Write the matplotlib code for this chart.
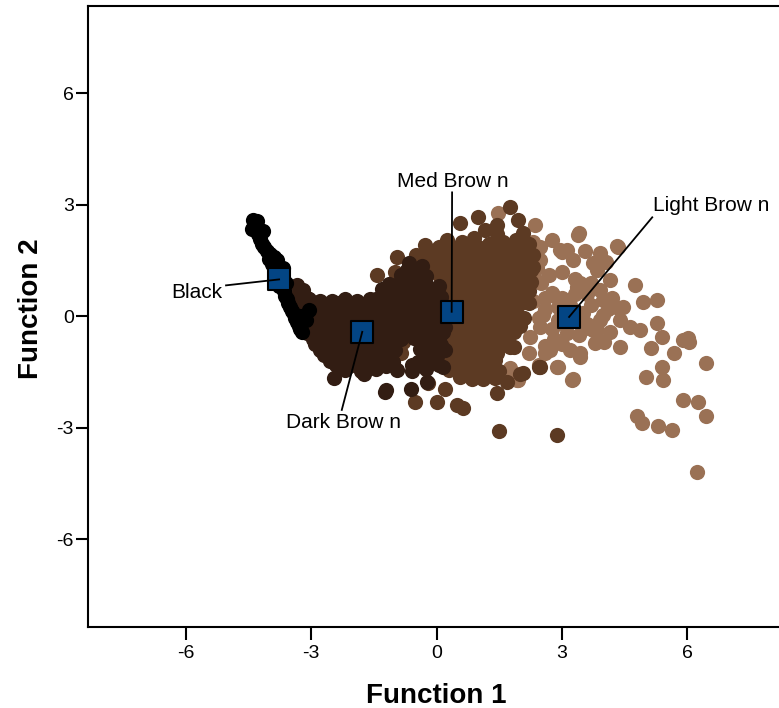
import matplotlib
matplotlib.use("Agg")
import matplotlib.pyplot as plt

plt.rcParams["font.family"] = ["Liberation Sans", "DejaVu Sans"]
plt.rcParams["axes.unicode_minus"] = False

# discriminant scores, one list pair per hair colour group
black_x = [-4.40, -4.30, -4.42, -4.33, -4.28, -4.22, -4.18, -4.12, -4.05, -3.98,
           -3.90, -3.82, -3.95, -3.88, -3.80, -3.74, -3.70, -3.78, -3.66, -3.62,
           -3.58, -3.55, -3.50, -3.46, -3.42, -3.38, -3.34, -3.30, -3.26, -3.22,
           -3.28, -3.05, -3.12, -3.60, -3.68, -4.02, -4.15]
black_y = [2.60, 2.55, 2.35, 2.42, 2.20, 2.08, 1.95, 1.85, 1.75, 1.68,
           1.58, 1.50, 1.40, 1.30, 1.18, 1.05, 0.92, 0.80, 0.68, 0.55,
           0.45, 0.35, 0.25, 0.15, 0.05, -0.05, -0.15, -0.25, -0.35, -0.42,
           0.00, 0.16, -0.10, 0.90, 1.30, 1.55, 2.30]

dark_x = [-0.65, -0.35, -0.70, -0.40,
          -0.85, -0.55, -0.25,
          -3.35, -1.15, -0.85, -0.55, -0.25, 0.05,
          -3.20, -1.30, -1.00, -0.70, -0.40, -0.10,
          -3.35, -3.10, -1.45, -1.15, -0.85, -0.55, -0.25, 0.10,
          -3.05, -2.80, -2.50, -2.20, -1.90, -1.60, -1.30, -1.00, -0.70, -0.40, -0.05,
          -3.25, -2.95, -2.65, -2.35, -2.05, -1.75, -1.45, -1.15, -0.85, -0.55, -0.25, 0.10,
          -3.10, -2.80, -2.50, -2.20, -1.90, -1.60, -1.30, -1.00, -0.70, -0.40, -0.10, 0.20,
          -3.15, -2.85, -2.55, -2.25, -1.95, -1.65, -1.35, -1.05, -0.75, -0.45, -0.15, 0.15,
          -3.00, -2.70, -2.40, -2.10, -1.80, -1.50, -1.20, -0.90, -0.60, -0.30, 0.00,
          -3.05, -2.75, -2.45, -2.15, -1.85, -1.55, -1.25, -0.95, -0.65, -0.35, -0.05, 0.20,
          -3.10, -2.80, -2.50, -2.20, -1.90, -1.60, -1.30, -1.00, -0.70, -0.40, -0.10, 0.15,
          -2.95, -2.65, -2.35, -2.05, -1.75, -1.45, -1.15, -0.85, -0.55, -0.25, 0.05,
          -2.90, -2.60, -2.30, -2.00, -1.70, -1.40, -1.10, -0.20, 0.10,
          -2.80, -2.50, -2.20, -1.90, -1.60, -1.30, -1.00, -0.40, -0.10, 0.20,
          -2.70, -2.40, -2.10, -1.80, -1.50, -1.20, -0.30, 0.00,
          -2.55, -2.25, -1.95, -1.65, -1.35, -1.05, -0.45, -0.15,
          -2.40, -2.10, -1.80, -1.50, -1.20, -0.60, -0.30, 0.05,
          -2.20, -1.80, -1.45, -0.95, -0.60, -0.25, 0.15,
          -2.45, -1.20, -0.62, -0.23, -1.75, -1.24]
dark_y = [1.42, 1.35, 1.25, 1.22,
          1.10, 1.12, 1.08,
          0.85, 0.88, 0.97, 0.85, 0.86, 0.82,
          0.70, 0.72, 0.68, 0.70, 0.72, 0.68,
          0.55, 0.50, 0.45, 0.55, 0.58, 0.55, 0.56, 0.52,
          0.45, 0.40, 0.42, 0.45, 0.40, 0.45, 0.42, 0.44, 0.40, 0.45, 0.42,
          0.30, 0.28, 0.32, 0.35, 0.30, 0.33, 0.32, 0.30, 0.30, 0.28, 0.32, 0.26,
          0.15, 0.17, 0.13, 0.15, 0.17, 0.13, 0.15, 0.17, 0.13, 0.15, 0.17, 0.13,
          0.00, 0.02, -0.02, 0.00, 0.03, -0.02, 0.00, 0.02, -0.02, 0.00, 0.02, -0.02,
          -0.15, -0.13, -0.17, -0.15, -0.13, -0.17, -0.15, -0.13, -0.17, -0.15, -0.13,
          -0.30, -0.28, -0.32, -0.30, -0.33, -0.28, -0.30, -0.32, -0.28, -0.30, -0.32, -0.30,
          -0.45, -0.47, -0.43, -0.45, -0.47, -0.43, -0.45, -0.47, -0.43, -0.45, -0.47, -0.43,
          -0.60, -0.62, -0.58, -0.60, -0.63, -0.58, -0.60, -0.62, -0.58, -0.60, -0.62,
          -0.75, -0.77, -0.73, -0.75, -0.77, -0.73, -0.75, -0.73, -0.77,
          -0.90, -0.92, -0.88, -0.90, -0.93, -0.88, -0.90, -0.88, -0.90, -0.92,
          -1.05, -1.07, -1.03, -1.05, -1.07, -1.03, -1.05, -1.07,
          -1.20, -1.18, -1.22, -1.20, -1.18, -1.22, -1.22, -1.20,
          -1.32, -1.34, -1.30, -1.32, -1.34, -1.32, -1.34, -1.30,
          -1.45, -1.48, -1.42, -1.45, -1.48, -1.42, -1.37,
          -1.65, -1.98, -1.95, -1.78, -1.55, -2.04]

med_x = [1.76,
         0.99, 1.45, 1.95,
         0.56,
         1.16, 1.45, 2.07,
         -0.28, 0.25, 0.60, 0.90, 1.25, 1.60, 1.90, 2.20,
         0.05, 0.35, 0.70, 1.00, 1.35, 1.65, 2.00,
         -0.95, -0.50, -0.15, 0.20, 0.50, 0.85, 1.15, 1.50, 1.80, 2.10, 2.30,
         -0.30, 0.05, 0.35, 0.65, 1.00, 1.30, 1.65, 1.95, 2.20,
         -0.10, 0.20, 0.50, 0.80, 1.10, 1.40, 1.70, 2.00, 2.30,
         -0.20, 0.20, 0.50, 0.80, 1.10, 1.40, 1.70, 2.00, 2.25,
         -1.43, -1.00, 0.05, 0.35, 0.65, 0.95, 1.25, 1.55, 1.85, 2.15,
         0.25, 0.55, 0.85, 1.15, 1.45, 1.75, 2.05,
         0.10, 0.40, 0.70, 1.00, 1.30, 1.60, 1.90, 2.25,
         0.20, 0.45, 0.75, 1.05, 1.35, 1.65, 1.95, 2.20,
         0.30, 0.60, 0.90, 1.20, 1.50, 1.80, 2.10,
         0.45, 0.75, 1.05, 1.35, 1.65, 1.95, 2.20,
         0.30, 0.60, 0.90, 1.20, 1.50, 1.80, 2.10,
         0.50, 0.80, 1.10, 1.40, 1.70, 1.95,
         0.35, 0.65, 0.95, 1.25, 1.55, 1.85, 2.10,
         0.45, 0.80, 1.10, 1.40, 1.70, 2.00,
         0.30, 0.60, 0.90, 1.20, 1.52, 1.85,
         0.45, 0.75, 1.05, 1.35, 1.70,
         0.40, 0.70, 1.00, 1.30, 1.60, 1.85,
         0.20, 0.50, 0.85, 1.15, 1.45, 1.75,
         -0.80, 0.30, 0.60, 0.90, 1.20, 1.44,
         0.25, 0.55, 0.85, 1.15, 1.40,
         -0.85, 0.40, 0.70, 1.00, 1.30,
         0.30, 0.60, 0.95, 1.20, 1.50,
         0.56, 0.85, 1.10, 1.40, 1.68, 2.07, 2.47, 2.00, 2.45,
         0.00, -0.52, 0.49, 0.63, 1.44, 1.49, 2.88, 0.20, -0.20]
med_y = [2.93,
         2.66, 2.45, 2.58,
         2.50,
         2.31, 2.20, 2.23,
         1.91, 2.05, 2.00, 2.10, 1.95, 2.00, 2.05, 1.95,
         1.85, 1.87, 1.83, 1.85, 1.87, 1.83, 1.85,
         1.59, 1.65, 1.70, 1.72, 1.68, 1.70, 1.72, 1.68, 1.70, 1.72, 1.64,
         1.55, 1.53, 1.57, 1.55, 1.53, 1.57, 1.55, 1.53, 1.57,
         1.40, 1.38, 1.42, 1.40, 1.38, 1.42, 1.40, 1.38, 1.32,
         1.25, 1.27, 1.23, 1.25, 1.27, 1.23, 1.25, 1.27, 1.23,
         1.10, 1.20, 1.10, 1.12, 1.08, 1.10, 1.12, 1.08, 1.10, 1.12,
         0.95, 0.97, 0.93, 0.95, 0.97, 0.93, 0.95,
         0.80, 0.82, 0.78, 0.80, 0.82, 0.78, 0.80, 0.91,
         0.65, 0.67, 0.63, 0.65, 0.67, 0.63, 0.65, 0.67,
         0.50, 0.52, 0.48, 0.50, 0.52, 0.48, 0.50,
         0.35, 0.37, 0.33, 0.35, 0.37, 0.33, 0.35,
         0.20, 0.22, 0.18, 0.20, 0.22, 0.18, 0.38,
         0.05, 0.07, 0.03, 0.05, 0.07, 0.03,
         -0.10, -0.08, -0.12, -0.10, -0.08, -0.12, -0.05,
         -0.25, -0.23, -0.27, -0.25, -0.23, -0.27,
         -0.40, -0.42, -0.38, -0.40, -0.38, -0.42,
         -0.55, -0.57, -0.53, -0.55, -0.57,
         -0.70, -0.72, -0.68, -0.70, -0.72, -0.83,
         -0.85, -0.87, -0.83, -0.85, -0.87, -0.83,
         -0.70, -1.00, -1.02, -0.98, -1.00, -1.00,
         -1.15, -1.17, -1.13, -1.15, -1.17,
         -1.00, -1.30, -1.32, -1.28, -1.30,
         -1.45, -1.47, -1.43, -1.45, -1.47,
         -1.64, -1.68, -1.70, -1.66, -1.77, -1.53, -1.37, -1.55, -1.37,
         -2.31, -2.31, -2.39, -2.47, -2.07, -3.09, -3.20, -1.95, -1.80]

light_x = [1.47, 2.47, 2.95, 2.79, 2.55, 3.41, 3.00, 4.34, 3.91, 4.75,
           5.27, 4.94, 4.47, 5.90, 2.76, 3.36, 2.47, 3.74, 3.39, 4.32,
           3.12, 3.27, 3.84, 4.15, 3.43, 3.91, 3.99, 3.99, 5.27, 6.02,
           4.15, 4.63, 4.87, 3.74, 4.80, 4.92, 5.30, 5.63, 5.90, 6.26,
           6.45, 5.01, 5.42, 5.39, 5.69, 6.05, 6.45, 5.13, 5.39, 6.24,
           3.24, 2.88, 2.59, 3.43, 4.39, 1.95, 3.79, 2.90, 3.27, 1.93,
           1.76, 1.28, 2.24, 2.71, 3.43, 2.47, 3.12, 3.84, 2.60, 2.90,
           3.20, 3.50, 3.00, 2.70, 3.00, 3.30, 3.60, 2.50, 2.80, 3.40,
           3.60, 4.20, 4.40, 2.40, 3.20, 2.60, 4.00, 2.35, 2.40,
           2.30, 2.60, 2.90, 3.30, 3.70, 4.10, 3.50, 3.10, 2.75, 2.45,
           3.90, 4.30, 2.20, 2.45, 3.00, 3.70, 4.05, 3.55, 2.75, 2.30]
light_y = [2.77, 1.85, 1.77, 0.56, 0.03, 2.23, 1.72, 1.85, 1.69, 0.83,
           0.43, 0.38, 0.24, -0.64, 0.62, 0.78, 1.50, 1.42, 2.18, 1.88,
           1.77, 1.50, 1.24, 0.97, 0.89, 0.70, 0.43, 0.03, -0.19, -0.59,
           -0.43, -0.30, -0.38, -0.38, -2.69, -2.87, -2.95, -3.06, -2.26, -2.31,
           -2.69, -1.64, -1.72, -1.37, -1.00, -0.70, -1.26, -0.86, -0.57, -4.19,
           -1.72, -1.37, -1.00, -1.10, -0.83, -1.72, -0.73, -1.37, -1.70, -1.72,
           -1.40, -1.10, -0.56, -0.91, -1.00, -0.30, -0.46, -0.38, 0.20, -0.10,
           0.30, 0.10, 0.50, 1.10, 1.20, 1.00, 0.60, 0.90, -0.60, -0.50,
           -0.20, 0.50, -0.10, 1.30, -0.90, -0.80, -0.70, 2.45, 0.95,
           0.40, 0.50, 0.25, 0.60, 0.30, 0.20, -0.35, -0.25, -0.35, -0.05,
           -0.10, 0.25, -1.00, -1.30, -0.75, 0.90, 1.45, 1.75, 2.05, 2.00]

# group centroids
groups = ["Black", "Dark Brow n", "Med Brow n", "Light Brow n"]
cent_x = [-3.77, -1.78, 0.36, 3.17]
cent_y = [0.99, -0.42, 0.12, -0.02]

# label placement: text anchor, leader line start, alignment
label_pos = [(-6.34, 0.64), (-2.24, -2.87), (0.38, 3.63), (5.18, 2.98)]
line_start = [(-5.04, 0.83), (-2.27, -2.52), (0.37, 3.33), (5.16, 2.66)]
label_ha = ["left", "center", "center", "left"]

fig = plt.figure(figsize=(7.79, 7.08), dpi=100)
ax = fig.add_axes([0.1126, 0.1148, 0.8958, 0.8771])

dot = 120
ax.scatter(light_x, light_y, s=dot, color="#9a7155", linewidths=0, zorder=2)
ax.scatter(med_x, med_y, s=dot, color="#5c3a23", linewidths=0, zorder=3)
ax.scatter(dark_x, dark_y, s=dot, color="#321d13", linewidths=0, zorder=4)
ax.scatter(black_x, black_y, s=dot, color="#000000", linewidths=0, zorder=5)

ax.scatter(cent_x, cent_y, s=240, marker="s", color="#034584",
           edgecolors="black", linewidths=1.5, zorder=6)

for name, cx, cy, (tx, ty), (lx, ly), ha in zip(groups, cent_x, cent_y,
                                                 label_pos, line_start, label_ha):
    ax.plot([lx, cx], [ly, cy], color="black", lw=1.3, zorder=7)
    ax.text(tx, ty, name, ha=ha, va="center", fontsize=15, zorder=8)

ax.set_xlim(-8.35, 8.35)
ax.set_ylim(-8.35, 8.35)
ax.set_xticks([-6, -3, 0, 3, 6])
ax.set_yticks([-6, -3, 0, 3, 6])

for side in ["left", "bottom", "top"]:
    ax.spines[side].set_linewidth(1.5)
ax.spines["right"].set_visible(False)

ax.tick_params(direction="out", length=9, width=1.5, labelsize=14)
ax.tick_params(axis="y", pad=1)
ax.tick_params(axis="x", pad=4)

ax.set_xlabel("Function 1", fontsize=20, fontweight="bold", labelpad=15.5)
ax.set_ylabel("Function 2", fontsize=20, fontweight="bold")
ax.yaxis.set_label_coords(-0.062, 0.512)

fig.savefig("out.png", dpi=100)
